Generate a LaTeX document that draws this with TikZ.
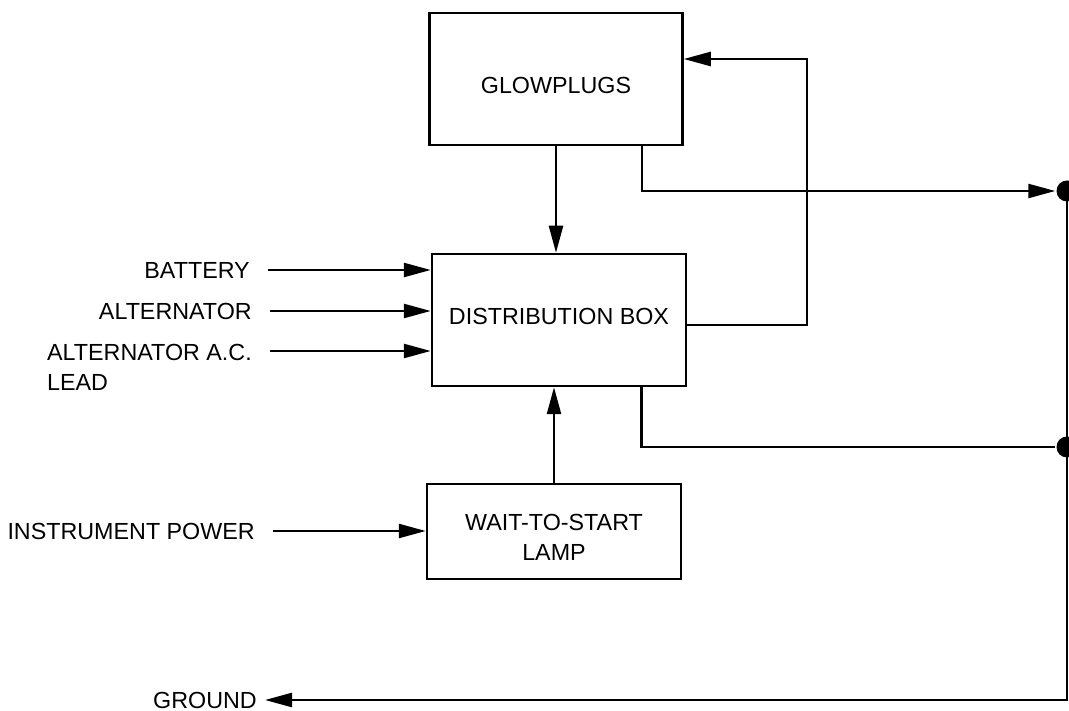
\documentclass[tikz,border=0pt]{standalone}
\usepackage{fontspec}
\setmainfont{Liberation Sans}
\usetikzlibrary{arrows.meta}
\begin{document}
\begin{tikzpicture}[x=1pt,y=-1pt,line width=2.5pt,line join=miter,
	font=\fontsize{23.3}{30}\selectfont,>={Triangle[length=27pt,width=14pt]},
	block/.style={draw,inner sep=0pt},
	lbl/.style={inner sep=0pt},
	feed/.style={->,shorten <=17pt}]
	\useasboundingbox (0,0) rectangle (1069,711);
	% blocks
	\node[block,minimum width=253pt,minimum height=132pt,text height=28.7pt,text depth=0pt] (glow) at (556,79) {GLOWPLUGS};
	\node[block,minimum width=254pt,minimum height=132pt,text height=16.7pt,text depth=8pt] (dist) at (559,320) {DISTRIBUTION BOX};
	\node[block,minimum width=254pt,minimum height=95pt,align=center,text height=58pt,text depth=0pt] (lamp) at (554,531.5) {WAIT-TO-START\\LAMP};
	% inputs
	\node[lbl,anchor=east] (bat) at (251,270) {BATTERY};
	\node[lbl,anchor=east] (alt) at (253,311) {ALTERNATOR};
	\node[lbl,anchor=north east,align=left] (acl) at (253,343) {ALTERNATOR A.C.\\LEAD};
	\node[lbl,anchor=east] (ins) at (256,531) {INSTRUMENT POWER};
	\node[lbl,anchor=east] (gnd) at (258,700) {GROUND};
	% junctions
	\node[circle,fill,inner sep=0pt,minimum size=21pt] (j1) at (1067,191) {};
	\node[circle,fill,inner sep=0pt,minimum size=21pt] (j2) at (1067,447) {};
	\coordinate (fb) at (807,59);
	\draw[feed] (bat.east) -- (bat.east -| dist.west);
	\draw[feed] (alt.east) -- (alt.east -| dist.west);
	\draw[feed] ([yshift=-8pt]acl.north east) -- ([yshift=-8pt]acl.north east -| dist.west);
	\draw[feed] (ins.east) -- (ins.east -| lamp.west);
	\draw[->] (glow.south) -- (glow.south |- dist.north);
	\draw[->] (lamp.north) -- (lamp.north |- dist.south);
	\draw[->] ([yshift=-5pt]dist.east) -| (fb) -- (fb -| glow.east);
	\draw[->] ([xshift=-42pt]glow.south east) |- (j1.west);
	\draw ([xshift=-46pt]dist.south east) |- (j2);
	\draw[->,shorten >=7pt] (j1.center) |- (gnd.east);
\end{tikzpicture}
\end{document}
